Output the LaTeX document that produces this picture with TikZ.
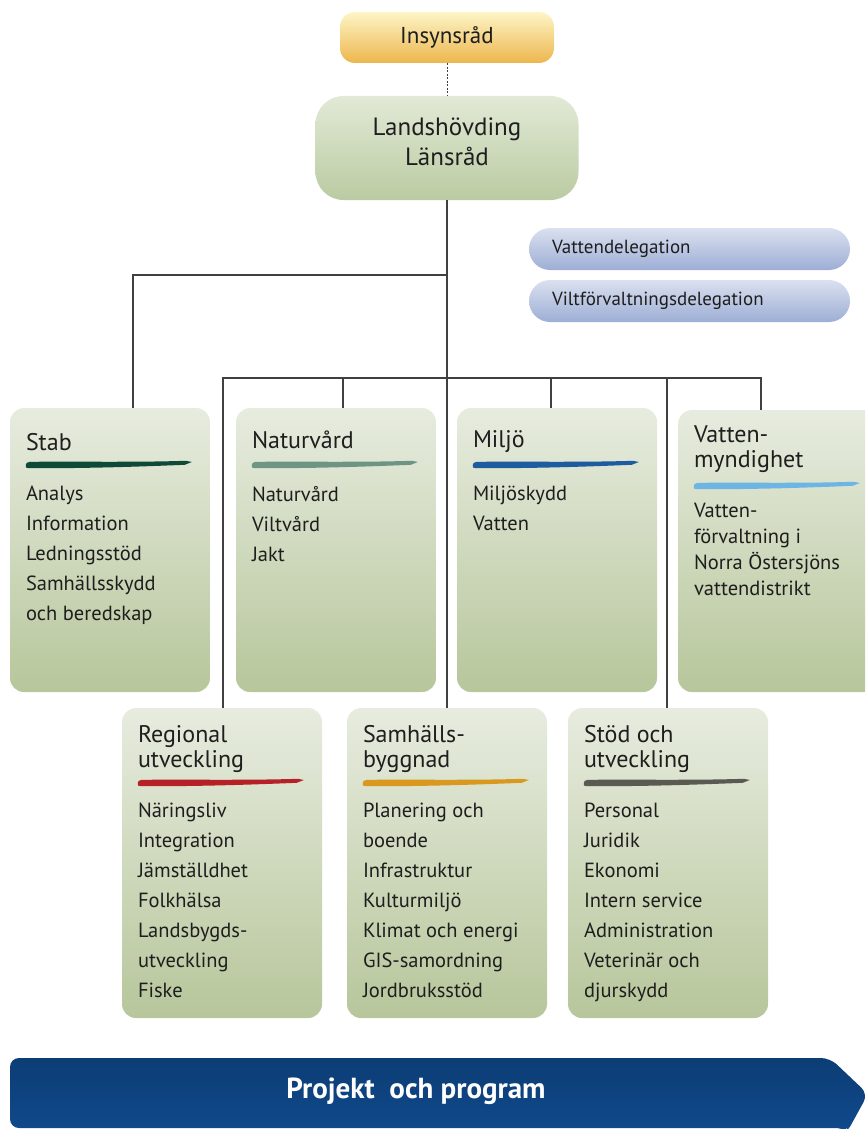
\documentclass[tikz,border=0pt]{standalone}
\usepackage{fontspec}
\setmainfont{PT Sans}
\usetikzlibrary{positioning}

\definecolor{ink}{HTML}{1E1E1E}
\definecolor{linegray}{HTML}{404040}
\definecolor{unittop}{HTML}{E7ECDF}
\definecolor{unitmid}{HTML}{D9E1CB}
\definecolor{unitbot}{HTML}{B7C69B}
\definecolor{chieftop}{HTML}{E2E9D6}
\definecolor{chiefbot}{HTML}{BACBA2}
\definecolor{insyntop}{HTML}{FDF5C6}
\definecolor{insynbot}{HTML}{EDB64E}
\definecolor{deltop}{HTML}{DAE0EF}
\definecolor{delbot}{HTML}{9DAED5}
\definecolor{bantop}{HTML}{0C3D75}
\definecolor{banmid}{HTML}{1A5DA8}
\definecolor{banbot}{HTML}{104A8C}
\definecolor{stabbr}{HTML}{0F4A38}
\definecolor{naturbr}{HTML}{6E9484}
\definecolor{miljobr}{HTML}{1D5C9E}
\definecolor{vattbr}{HTML}{6DB5E2}
\definecolor{regbr}{HTML}{B52126}
\definecolor{samhbr}{HTML}{D8991E}
\definecolor{stodbr}{HTML}{5B5A52}

\tikzstyle{unit} = [rectangle, rounded corners=14pt, minimum width=200pt, top color=unittop, middle color=unitmid, bottom color=unitbot, inner sep=0pt]
\tikzstyle{head} = [anchor=north west, inner sep=0pt, align=left, text=ink, font=\fontsize{24}{25}\selectfont]
\tikzstyle{items} = [anchor=north west, inner sep=0pt, align=left, text=ink, font=\fontsize{20.5}{30}\selectfont]
\tikzstyle{insyn} = [rectangle, rounded corners=15pt, minimum width=214pt, minimum height=51pt, top color=insyntop, bottom color=insynbot, text=ink, font=\fontsize{23}{23}\selectfont]
\tikzstyle{chief} = [rectangle, rounded corners=28pt, minimum width=263pt, minimum height=104pt, top color=chieftop, bottom color=chiefbot]
\tikzstyle{deleg} = [rectangle, rounded corners=21pt, text width=275pt, inner xsep=23pt, minimum height=42pt, top color=deltop, bottom color=delbot, text=ink, align=left, font=\fontsize{19}{19}\selectfont]
\tikzstyle{link} = [draw=linegray, line width=1.3pt]

% brush stroke under a unit heading: node, offset from top, colour
\newcommand{\brushline}[3]{%
  \fill[#3, shift={([shift={(16,#2)}]#1.north west)}]
    (0,2) .. controls (0,-2) and (1,-2.8) .. (4,-3)
    .. controls (60,-3.4) and (110,-2.4) .. (160,-4)
    -- (166,-2.8) -- (159,0)
    .. controls (110,2) and (60,3.6) .. (4,3.4)
    .. controls (1,3.4) and (0,3) .. (0,2) -- cycle;}

\begin{document}
\begin{tikzpicture}[x=1pt, y=-1pt]
            \useasboundingbox (0,0) rectangle (865,1129);
            \clip (0,0) rectangle (865,1129);

            \node [insyn] at (447,37.5) (insyn) {Insynsråd};
            \node [chief] at (447,148) (lands) {};
            \node [text=ink, align=center, font=\fontsize{25}{30}\selectfont] at (447,142) (landst) {Landshövding\\Länsråd};
            \node [deleg] at (689.5,249) (vdel) {Vattendelegation};
            \node [deleg] at (689.5,301) (wdel) {Viltförvaltningsdelegation};

            % units, upper row
            \node [unit, minimum height=284pt] at (110,550) (stab) {};
            \node [unit, minimum height=284pt] at (336,550) (natur) {};
            \node [unit, minimum height=284pt] at (557,550) (miljo) {};
            \node [unit, minimum height=282pt] at (778,551) (vattm) {};
            % units, lower row
            \node [unit, minimum height=310pt] at (222,863) (reg) {};
            \node [unit, minimum height=310pt] at (447,863) (samh) {};
            \node [unit, minimum height=310pt] at (668,863) (stod) {};

            \node [head] at ([shift={(16,25)}]stab.north west) (stabh) {Stab};
            \brushline{stab}{57}{stabbr}
            \node [items] at ([shift={(16,78)}]stab.north west) (stabi) {Analys\\Information\\Ledningsstöd\\Samhällsskydd\\och beredskap};

            \node [head] at ([shift={(16,23)}]natur.north west) (naturh) {Naturvård};
            \brushline{natur}{57}{naturbr}
            \node [items] at ([shift={(16,78)}]natur.north west) (naturi) {Naturvård\\Viltvård\\Jakt};

            \node [head] at ([shift={(16,23)}]miljo.north west) (miljoh) {Miljö};
            \brushline{miljo}{57}{miljobr}
            \node [items] at ([shift={(16,78)}]miljo.north west) (miljoi) {Miljöskydd\\Vatten};

            \node [head] at ([shift={(16,16)}]vattm.north west) (vattmh) {Vatten-\\myndighet};
            \brushline{vattm}{76}{vattbr}
            \node [items, font=\fontsize{20.5}{26}\selectfont] at ([shift={(16,93)}]vattm.north west) (vattmi) {Vatten-\\förvaltning i\\Norra Östersjöns\\vattendistrikt};

            \node [head] at ([shift={(16,17)}]reg.north west) (regh) {Regional\\utveckling};
            \brushline{reg}{75}{regbr}
            \node [items] at ([shift={(16,95)}]reg.north west) (regi) {Näringsliv\\Integration\\Jämställdhet\\Folkhälsa\\Landsbygds-\\utveckling\\Fiske};

            \node [head] at ([shift={(16,17)}]samh.north west) (samhh) {Samhälls-\\byggnad};
            \brushline{samh}{75}{samhbr}
            \node [items] at ([shift={(16,95)}]samh.north west) (samhi) {Planering och\\boende\\Infrastruktur\\Kulturmiljö\\Klimat och energi\\GIS-samordning\\Jordbruksstöd};

            \node [head] at ([shift={(16,17)}]stod.north west) (stodh) {Stöd och\\utveckling};
            \brushline{stod}{75}{stodbr}
            \node [items] at ([shift={(16,95)}]stod.north west) (stodi) {Personal\\Juridik\\Ekonomi\\Intern service\\Administration\\Veterinär och\\djurskydd};

            % connectors
            \coordinate (j1) at (447,275);
            \coordinate (j2) at (447,378);
            \draw [linegray, line width=0.9pt, dash pattern=on 2pt off 1.5pt] (insyn) -- (lands);
            \draw [link] (lands) -- (samh);
            \draw [link] (j1) -| ([xshift=23]stab.north);
            \draw [link] (j2) -| ([xshift=1]reg.north);
            \draw [link] (j2) -| ([xshift=-17]vattm.north);
            \draw [link] ([xshift=7]natur.north) |- (j2);
            \draw [link] ([xshift=-6]miljo.north) |- (j2);
            \draw [link] ([xshift=-1]stod.north) |- (j2);

            % banner
            \shade [top color=bantop, middle color=banmid, bottom color=banbot, rounded corners=9pt]
              (10,1128) -- (10,1058) -- (830,1058) -- (868,1094) -- (846,1134) -- (846,1128) -- cycle;
            \node [text=white, font=\bfseries\fontsize{29}{29}\selectfont] at (416,1091) (proj) {Projekt~ och program};
\end{tikzpicture}
\end{document}
